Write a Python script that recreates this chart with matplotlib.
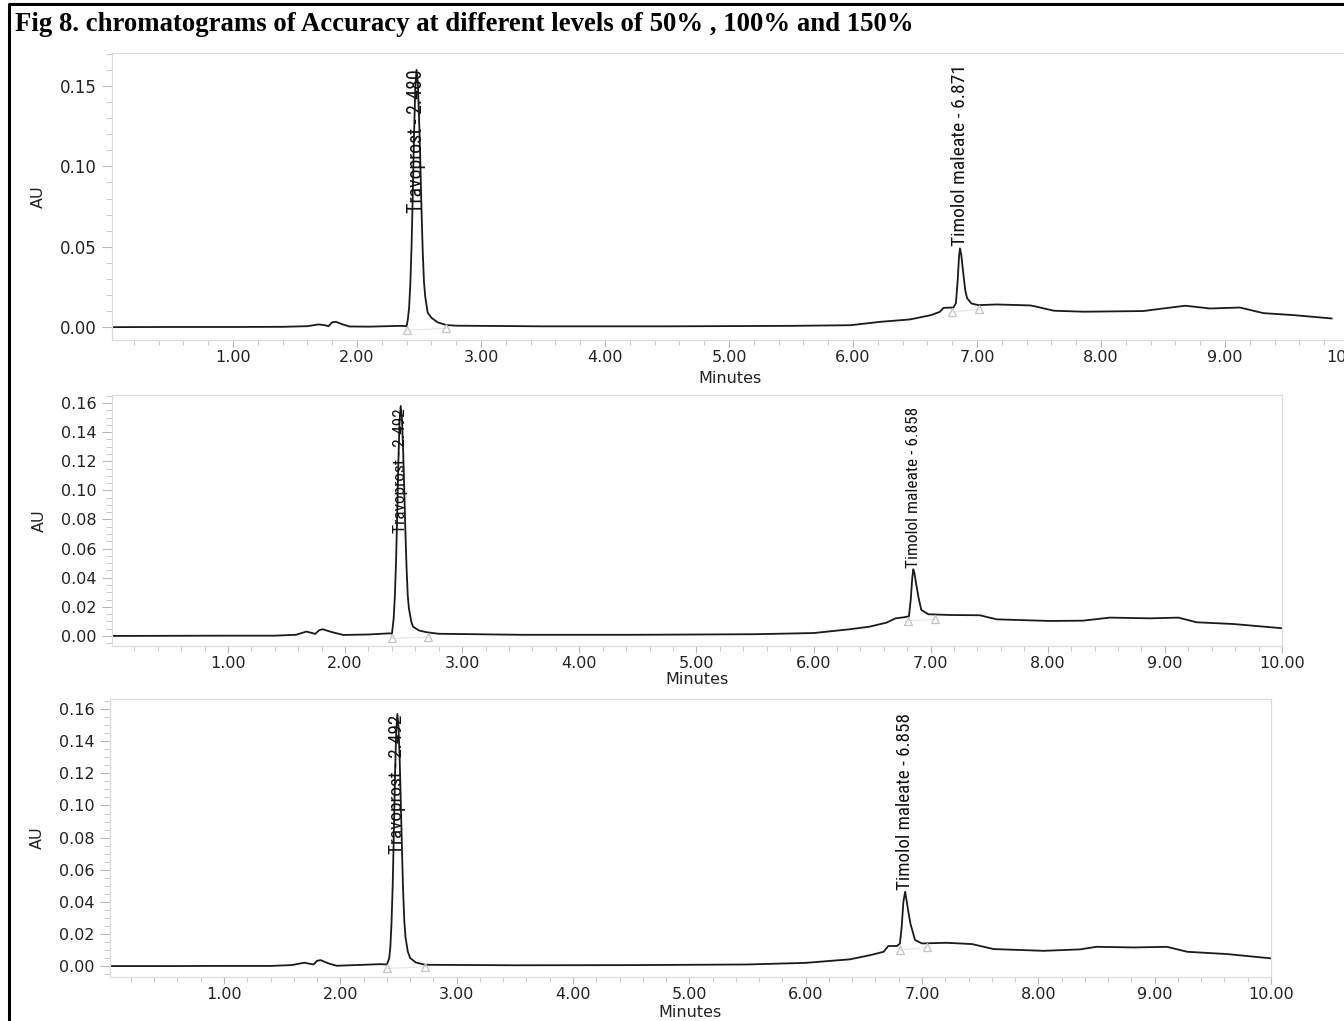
import os
import matplotlib
matplotlib.use("Agg")
import matplotlib.pyplot as plt
from matplotlib import font_manager as fm
from matplotlib.lines import Line2D
from matplotlib.ticker import MultipleLocator, FormatStrFormatter

plt.rcParams['font.family'] = ['DejaVu Sans']

# --- chromatogram traces (minutes, AU) ---
t1 = [0.03, 0.50, 1.00, 1.40, 1.60, 1.69, 1.74, 1.77, 1.80, 1.83, 1.88, 1.94, 2.10, 2.35, 2.40,
      2.41, 2.42, 2.43, 2.44, 2.45, 2.46, 2.47, 2.48, 2.49, 2.50, 2.51, 2.52, 2.53, 2.54, 2.55,
      2.57, 2.60, 2.65, 2.72, 2.80, 3.50, 4.50, 5.50, 5.98, 6.22, 6.46, 6.63, 6.70, 6.73, 6.81,
      6.83, 6.845, 6.855, 6.863, 6.873, 6.89, 6.905, 6.92, 6.955, 7.01, 7.16, 7.43, 7.48, 7.62,
      7.86, 8.34, 8.50, 8.68, 8.88, 9.12, 9.31, 9.55, 9.86]
au1 = [0.0000, 0.0001, 0.0001, 0.0002, 0.0006, 0.0017, 0.0012, 0.0006, 0.0030, 0.0033, 0.0018,
       0.0004, 0.0003, 0.0008, 0.0006,
       0.0049, 0.012, 0.027, 0.051, 0.084, 0.120, 0.149, 0.160, 0.152, 0.131, 0.104, 0.073,
       0.047, 0.028, 0.019, 0.009, 0.0058, 0.0030, 0.0013, 0.0009, 0.0005, 0.0005, 0.0008,
       0.0012, 0.0033, 0.0048, 0.0075, 0.0095, 0.0120, 0.0122, 0.0150, 0.030, 0.044, 0.049,
       0.045, 0.033, 0.023, 0.018, 0.0147, 0.0137, 0.0141, 0.0135, 0.0127, 0.0102, 0.0096,
       0.0100, 0.0116, 0.0133, 0.0116, 0.0122, 0.0087, 0.0075, 0.0054]

t2 = [0.01, 0.50, 1.00, 1.40, 1.58, 1.67, 1.72, 1.745, 1.78, 1.81, 1.88, 1.985, 2.20, 2.38, 2.40,
      2.405, 2.415, 2.425, 2.435, 2.445, 2.455, 2.465, 2.475, 2.485, 2.495, 2.505, 2.515, 2.525,
      2.535, 2.545, 2.565, 2.58, 2.63, 2.70, 2.80, 3.50, 4.50, 5.50, 6.00, 6.31, 6.48, 6.625,
      6.70, 6.77, 6.815, 6.83, 6.843, 6.852, 6.862, 6.88, 6.895, 6.92, 6.98, 7.165, 7.42, 7.565,
      8.02, 8.30, 8.53, 8.875, 9.115, 9.27, 9.585, 10.0]
au2 = [0.0000, 0.0001, 0.0002, 0.0002, 0.0008, 0.0030, 0.0020, 0.0014, 0.0040, 0.0046, 0.0028,
       0.0007, 0.0010, 0.0018, 0.0015,
       0.0048, 0.012, 0.027, 0.050, 0.083, 0.119, 0.147, 0.158, 0.150, 0.130, 0.102, 0.072,
       0.047, 0.028, 0.019, 0.010, 0.0064, 0.0038, 0.0025, 0.0015, 0.0008, 0.0008, 0.0012,
       0.0020, 0.0046, 0.0064, 0.0092, 0.0121, 0.0128, 0.0135, 0.025, 0.040, 0.0458, 0.043,
       0.034, 0.027, 0.0179, 0.0149, 0.0144, 0.0142, 0.0114, 0.0103, 0.0105, 0.0126, 0.0121,
       0.0126, 0.0094, 0.0082, 0.0053]

t3 = [0.02, 0.50, 1.00, 1.40, 1.58, 1.69, 1.74, 1.77, 1.80, 1.83, 1.90, 1.97, 2.20, 2.34, 2.40,
      2.42, 2.43, 2.44, 2.45, 2.46, 2.47, 2.48, 2.49, 2.50, 2.51, 2.52, 2.53, 2.54, 2.55, 2.56,
      2.58, 2.60, 2.65, 2.73, 3.50, 4.50, 5.50, 6.00, 6.38, 6.555, 6.67, 6.71, 6.785, 6.81,
      6.825, 6.84, 6.855, 6.865, 6.88, 6.90, 6.94, 7.00, 7.21, 7.43, 7.615, 8.045, 8.36, 8.50,
      8.82, 9.105, 9.28, 9.62, 10.0]
au3 = [0.0000, 0.0000, 0.0001, 0.0001, 0.0006, 0.0021, 0.0014, 0.0010, 0.0033, 0.0037, 0.0016,
       0.0002, 0.0008, 0.0012, 0.0010,
       0.0048, 0.012, 0.027, 0.050, 0.083, 0.119, 0.146, 0.157, 0.149, 0.129, 0.101, 0.072,
       0.046, 0.028, 0.018, 0.009, 0.0050, 0.0022, 0.0008, 0.0005, 0.0006, 0.0010, 0.0020,
       0.0042, 0.0068, 0.0089, 0.0125, 0.0125, 0.0140, 0.024, 0.040, 0.0463, 0.042, 0.035,
       0.0266, 0.0162, 0.0141, 0.0145, 0.0137, 0.0106, 0.0095, 0.0104, 0.0120, 0.0116, 0.0120,
       0.0089, 0.0075, 0.0048]

# integration marks (peak start / end)
marks1 = [(2.40, -0.0019), (2.72, -0.0008), (6.80, 0.0095), (7.02, 0.0110)]
marks2 = [(2.405, -0.0016), (2.71, -0.0009), (6.81, 0.0105), (7.04, 0.0114)]
marks3 = [(2.40, -0.0015), (2.73, -0.0004), (6.81, 0.0100), (7.04, 0.0116)]

# peak labels: text, retention time, AU of the label foot, label length in px
labels1 = [("Travoprost - 2.480", 2.48, 0.071, 144), ("Timolol maleate - 6.871", 6.863, 0.0505, 182)]
labels2 = [("Travoprost - 2.492", 2.475, 0.0707, 125), ("Timolol maleate - 6.858", 6.852, 0.047, 162)]
labels3 = [("Travoprost - 2.492", 2.49, 0.070, 140), ("Timolol maleate - 6.858", 6.855, 0.0475, 178)]


def narrow_font():
    # peak labels in the original use a narrow sans face
    prefs = ['liberationsansnarrow-regular', 'arialnarrow.', 'arial narrow', 'notosans-extracondensed.',
             'notosans-condensed.', 'notosans-semicondensed.', 'robotocondensed-regular',
             'roboto-condensed', 'opensans-condensed', 'dejavusanscondensed.']
    names = [(os.path.basename(f.fname).lower(), f.fname) for f in fm.fontManager.ttflist]
    for p in prefs:
        for b, f in names:
            if b.startswith(p) or p in b:
                return fm.FontProperties(fname=f)
    return fm.FontProperties(family='Liberation Sans')


NARROW = narrow_font()

W, H = 1344, 1021
fig = plt.figure(figsize=(W / 100, H / 100), dpi=100)
peak_texts = []


def px_axes(left, top, right, bottom):
    return fig.add_axes([left / W, 1 - bottom / H, (right - left) / W, (bottom - top) / H])


def draw_panel(ax, t, au, marks, labels, xlim, ylim, ymajor, yminor, yfs, xlpad):
    ax.plot(t, au, color='#1a1a1a', lw=1.3, solid_joinstyle='round')
    mx = [m[0] for m in marks]
    my = [m[1] for m in marks]
    ax.plot(mx[:2], my[:2], color='#e4e4e4', lw=0.8)
    ax.plot(mx[2:], my[2:], color='#e4e4e4', lw=0.8)
    ax.plot(mx, my, ls='none', marker='^', ms=6, mfc='none', mec='#c4c4c4', mew=0.9)
    for txt, x, y, length in labels:
        tx = ax.text(x, y, txt, rotation=90, ha='center', va='bottom', fontproperties=NARROW,
                     fontsize=15, color='#111111')
        peak_texts.append((tx, length))
    ax.set_xlim(*xlim)
    ax.set_ylim(*ylim)
    ax.xaxis.set_major_locator(MultipleLocator(1))
    ax.xaxis.set_minor_locator(MultipleLocator(0.2))
    ax.xaxis.set_major_formatter(FormatStrFormatter('%.2f'))
    ax.yaxis.set_major_locator(MultipleLocator(ymajor))
    ax.yaxis.set_minor_locator(MultipleLocator(yminor))
    ax.yaxis.set_major_formatter(FormatStrFormatter('%.2f'))
    ax.tick_params(axis='y', which='major', direction='out', length=7, width=0.8,
                   color='#b8b8b8', labelcolor='#222222', labelsize=yfs, pad=4)
    ax.tick_params(axis='y', which='minor', direction='out', length=4, width=0.7, color='#c8c8c8')
    ax.tick_params(axis='x', which='major', direction='out', length=5, width=0.8,
                   color='#b8b8b8', labelcolor='#222222', labelsize=11.5, pad=2)
    ax.tick_params(axis='x', which='minor', direction='out', length=3.5, width=0.7, color='#c8c8c8')
    for s in ax.spines.values():
        s.set_color('#dcdcdc')
        s.set_linewidth(0.9)
    ax.set_xlabel("Minutes", fontsize=11.5, labelpad=xlpad, color='#222222')
    ax.set_ylabel("AU", fontsize=11.5, labelpad=10, color='#222222')


ax1 = px_axes(112, 53, 1349, 340)
draw_panel(ax1, t1, au1, marks1, labels1, (0.024, 10.0), (-0.008, 0.1705), 0.05, 0.01, 12, 4.5)

ax2 = px_axes(112, 395, 1282, 646)
draw_panel(ax2, t2, au2, marks2, labels2, (0.01, 10.0), (-0.0069, 0.1655), 0.02, 0.005, 11.5, 1)

ax3 = px_axes(110, 699, 1271, 977)
draw_panel(ax3, t3, au3, marks3, labels3, (0.02, 10.0), (-0.0068, 0.1663), 0.02, 0.005, 11.5, 2.5)

# size each peak label so its length matches the original
renderer = fig.canvas.get_renderer()
for tx, length in peak_texts:
    h = tx.get_window_extent(renderer).height
    tx.set_fontsize(15 * length / h)

# figure caption and frame
fig.text(15 / W, 1 - 12 / H,
         "Fig 8. chromatograms of Accuracy at different levels of 50% , 100% and 150%",
         ha='left', va='top', fontsize=19.3, fontweight='bold', family='Liberation Serif')
fig.add_artist(Line2D([9 / W, 9 / W, 1.0], [0.0, 1 - 4 / H, 1 - 4 / H],
                      transform=fig.transFigure, color='black', lw=2.2))

fig.savefig("out.png", dpi=100)
